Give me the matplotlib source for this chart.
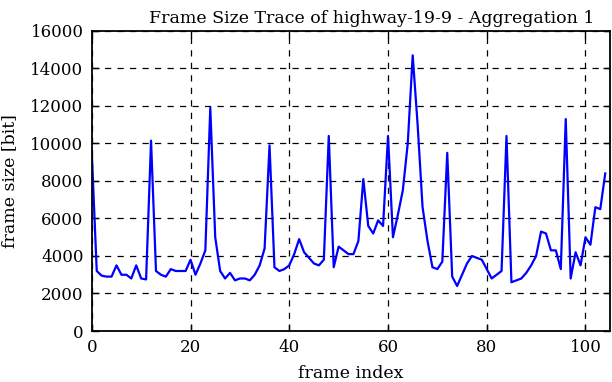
import matplotlib
matplotlib.use("Agg")
import matplotlib.pyplot as plt
import numpy as np

# frame sizes in bit (frames 0..104)
frame_size = [
    9500, 3200, 2950, 2900, 2900, 3500, 3000, 3000, 2800, 3500,
    2800, 2750, 10150, 3200, 3000, 2900, 3300, 3200, 3200, 3200,
    3800, 3000, 3600, 4300, 11900, 5000, 3200, 2800, 3100, 2700,
    2800, 2800, 2700, 3000, 3500, 4400, 9900, 3400, 3200, 3300,
    3500, 4100, 4900, 4200, 3900, 3600, 3500, 3800, 10400, 3400,
    4500, 4300, 4100, 4100, 4800, 8100, 5600, 5200, 5900, 5600,
    10400, 5000, 6200, 7500, 10000, 14700, 11000, 6600, 4800, 3400,
    3300, 3700, 9500, 2900, 2400, 3000, 3600, 4000, 3900, 3800,
    3300, 2800, 3000, 3200, 10400, 2600, 2700, 2800, 3100, 3500,
    4000, 5300, 5200, 4300, 4300, 3300, 11300, 2800, 4200, 3500,
    5000, 4600, 6600, 6500, 8400,
]
frame_index = np.arange(len(frame_size))

plt.rcParams["font.family"] = ["DejaVu Serif"]

fig = plt.figure(figsize=(6.12, 3.82), dpi=100)
ax = fig.add_axes([0.150, 0.1335, 0.847, 0.7855])

ax.plot(frame_index, frame_size, color="#0000ff", linewidth=1.6)

ax.set_xlim(0, 105)
ax.set_ylim(0, 16000)
ax.set_xticks(np.arange(0, 101, 20))
ax.set_yticks(np.arange(0, 16001, 2000))
ax.tick_params(direction="in", top=True, right=True, labelsize=12, length=5, width=1, pad=6)
ax.grid(True, color="black", linestyle=(0, (5, 5)), linewidth=0.9)
for s in ax.spines.values():
    s.set_linewidth(1.3)

ax.set_xlabel("frame index", fontsize=12.5, labelpad=6)
ax.set_ylabel("frame size [bit]", fontsize=12.5, labelpad=9)
ax.set_title("Frame Size Trace of highway-19-9 - Aggregation 1", fontsize=12.5, pad=6, x=0.54)

fig.savefig("out.png", dpi=100)
